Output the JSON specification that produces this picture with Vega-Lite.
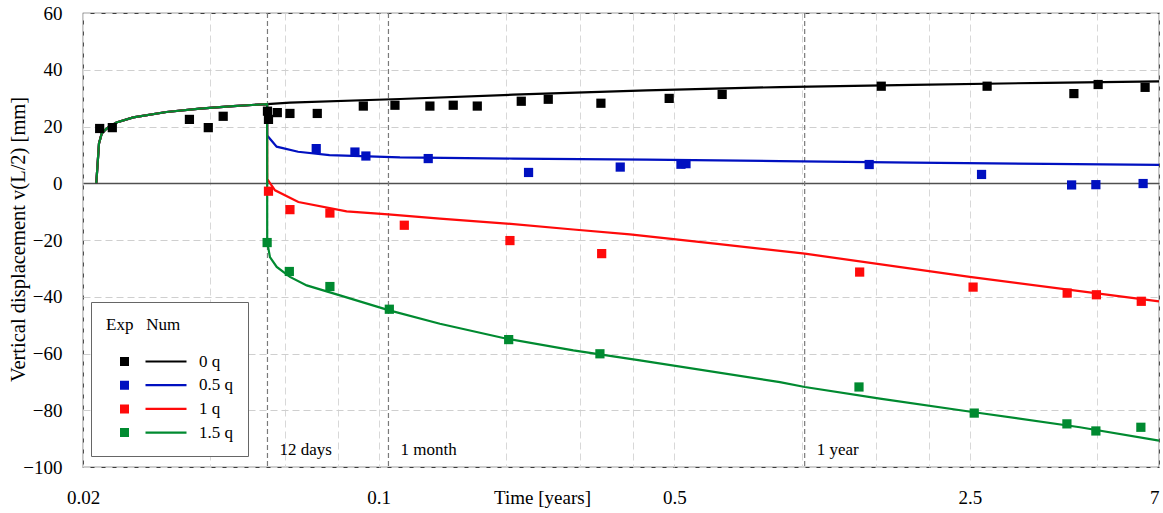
{
  "$schema": "https://vega.github.io/schema/vega-lite/v6.json",
  "width": 1076,
  "height": 454,
  "autosize": "none",
  "padding": {"left": 83, "top": 13, "right": 4, "bottom": 46},
  "background": "white",
  "config": {
    "view": {"stroke": "#3c3c3c", "strokeWidth": 1.2},
    "font": "Liberation Serif",
    "axis": {"labelFont": "Liberation Serif", "titleFont": "Liberation Serif", "labelColor": "#000", "titleColor": "#000", "titleFontWeight": "normal", "ticks": false, "tickSize": 0, "domain": false}
  },
  "datasets": {
    "events": [
      {"t": 0.0546, "label": "12 days"},
      {"t": 0.1055, "label": "1 month"},
      {"t": 1.017, "label": "1 year"}
    ],
    "exp": [
      {"t": 0.0219, "v": 19.3, "series": "0 q"},
      {"t": 0.02346, "v": 19.6, "series": "0 q"},
      {"t": 0.0357, "v": 22.5, "series": "0 q"},
      {"t": 0.03956, "v": 19.6, "series": "0 q"},
      {"t": 0.0429, "v": 23.6, "series": "0 q"},
      {"t": 0.0546, "v": 25.4, "series": "0 q"},
      {"t": 0.0549, "v": 22.5, "series": "0 q"},
      {"t": 0.0576, "v": 24.9, "series": "0 q"},
      {"t": 0.0617, "v": 24.6, "series": "0 q"},
      {"t": 0.0716, "v": 24.6, "series": "0 q"},
      {"t": 0.092, "v": 27.2, "series": "0 q"},
      {"t": 0.1093, "v": 27.5, "series": "0 q"},
      {"t": 0.1322, "v": 27.2, "series": "0 q"},
      {"t": 0.1501, "v": 27.5, "series": "0 q"},
      {"t": 0.1711, "v": 27.2, "series": "0 q"},
      {"t": 0.2174, "v": 28.9, "series": "0 q"},
      {"t": 0.2518, "v": 29.6, "series": "0 q"},
      {"t": 0.3354, "v": 28.2, "series": "0 q"},
      {"t": 0.4864, "v": 29.9, "series": "0 q"},
      {"t": 0.649, "v": 31.3, "series": "0 q"},
      {"t": 1.543, "v": 34.2, "series": "0 q"},
      {"t": 2.746, "v": 34.2, "series": "0 q"},
      {"t": 4.404, "v": 31.6, "series": "0 q"},
      {"t": 5.026, "v": 34.8, "series": "0 q"},
      {"t": 6.49, "v": 33.8, "series": "0 q"},
      {"t": 0.0712, "v": 12.2, "series": "0.5 q"},
      {"t": 0.0879, "v": 11.0, "series": "0.5 q"},
      {"t": 0.0933, "v": 9.6, "series": "0.5 q"},
      {"t": 0.131, "v": 8.7, "series": "0.5 q"},
      {"t": 0.2262, "v": 3.8, "series": "0.5 q"},
      {"t": 0.3726, "v": 5.7, "series": "0.5 q"},
      {"t": 0.5186, "v": 6.7, "series": "0.5 q"},
      {"t": 0.533, "v": 6.9, "series": "0.5 q"},
      {"t": 1.445, "v": 6.6, "series": "0.5 q"},
      {"t": 2.664, "v": 3.1, "series": "0.5 q"},
      {"t": 4.35, "v": -0.6, "series": "0.5 q"},
      {"t": 4.964, "v": -0.5, "series": "0.5 q"},
      {"t": 6.42, "v": -0.1, "series": "0.5 q"},
      {"t": 0.0549, "v": -2.8, "series": "1 q"},
      {"t": 0.0617, "v": -9.3, "series": "1 q"},
      {"t": 0.0767, "v": -10.5, "series": "1 q"},
      {"t": 0.115, "v": -14.8, "series": "1 q"},
      {"t": 0.2044, "v": -20.2, "series": "1 q"},
      {"t": 0.3368, "v": -24.8, "series": "1 q"},
      {"t": 1.372, "v": -31.3, "series": "1 q"},
      {"t": 2.544, "v": -36.6, "series": "1 q"},
      {"t": 4.246, "v": -38.7, "series": "1 q"},
      {"t": 4.978, "v": -39.3, "series": "1 q"},
      {"t": 6.356, "v": -41.6, "series": "1 q"},
      {"t": 0.0545, "v": -20.9, "series": "1.5 q"},
      {"t": 0.0615, "v": -31.1, "series": "1.5 q"},
      {"t": 0.0767, "v": -36.4, "series": "1.5 q"},
      {"t": 0.106, "v": -44.4, "series": "1.5 q"},
      {"t": 0.203, "v": -55.1, "series": "1.5 q"},
      {"t": 0.3336, "v": -60.1, "series": "1.5 q"},
      {"t": 1.367, "v": -71.8, "series": "1.5 q"},
      {"t": 2.56, "v": -81.0, "series": "1.5 q"},
      {"t": 4.24, "v": -84.8, "series": "1.5 q"},
      {"t": 4.964, "v": -87.3, "series": "1.5 q"},
      {"t": 6.342, "v": -86.0, "series": "1.5 q"}
    ],
    "num": [
      {"t": 0.0215, "v": 0, "series": "0 q"},
      {"t": 0.02182, "v": 14.0, "series": "0 q"},
      {"t": 0.02214, "v": 17.5, "series": "0 q"},
      {"t": 0.02276, "v": 19.3, "series": "0 q"},
      {"t": 0.024, "v": 21.4, "series": "0 q"},
      {"t": 0.0263, "v": 23.2, "series": "0 q"},
      {"t": 0.0315, "v": 25.1, "series": "0 q"},
      {"t": 0.0378, "v": 26.3, "series": "0 q"},
      {"t": 0.0453, "v": 27.2, "series": "0 q"},
      {"t": 0.0545, "v": 27.9, "series": "0 q"},
      {"t": 0.0617, "v": 28.4, "series": "0 q"},
      {"t": 0.1123, "v": 29.7, "series": "0 q"},
      {"t": 0.208, "v": 31.2, "series": "0 q"},
      {"t": 0.43, "v": 32.7, "series": "0 q"},
      {"t": 0.889, "v": 33.9, "series": "0 q"},
      {"t": 1.836, "v": 34.7, "series": "0 q"},
      {"t": 3.796, "v": 35.4, "series": "0 q"},
      {"t": 7, "v": 35.9, "series": "0 q"},
      {"t": 0.0215, "v": 0, "series": "0.5 q"},
      {"t": 0.02182, "v": 14.0, "series": "0.5 q"},
      {"t": 0.02214, "v": 17.5, "series": "0.5 q"},
      {"t": 0.02276, "v": 19.3, "series": "0.5 q"},
      {"t": 0.024, "v": 21.4, "series": "0.5 q"},
      {"t": 0.0263, "v": 23.2, "series": "0.5 q"},
      {"t": 0.0315, "v": 25.1, "series": "0.5 q"},
      {"t": 0.0378, "v": 26.3, "series": "0.5 q"},
      {"t": 0.0453, "v": 27.2, "series": "0.5 q"},
      {"t": 0.0545, "v": 27.9, "series": "0.5 q"},
      {"t": 0.05452, "v": 16.8, "series": "0.5 q"},
      {"t": 0.0574, "v": 12.9, "series": "0.5 q"},
      {"t": 0.0645, "v": 11.1, "series": "0.5 q"},
      {"t": 0.0765, "v": 9.9, "series": "0.5 q"},
      {"t": 0.1123, "v": 9.1, "series": "0.5 q"},
      {"t": 0.208, "v": 8.7, "series": "0.5 q"},
      {"t": 0.43, "v": 8.3, "series": "0.5 q"},
      {"t": 0.889, "v": 7.8, "series": "0.5 q"},
      {"t": 1.836, "v": 7.3, "series": "0.5 q"},
      {"t": 3.796, "v": 6.8, "series": "0.5 q"},
      {"t": 7, "v": 6.45, "series": "0.5 q"},
      {"t": 0.0215, "v": 0, "series": "1 q"},
      {"t": 0.02182, "v": 14.0, "series": "1 q"},
      {"t": 0.02214, "v": 17.5, "series": "1 q"},
      {"t": 0.02276, "v": 19.3, "series": "1 q"},
      {"t": 0.024, "v": 21.4, "series": "1 q"},
      {"t": 0.0263, "v": 23.2, "series": "1 q"},
      {"t": 0.0315, "v": 25.1, "series": "1 q"},
      {"t": 0.0378, "v": 26.3, "series": "1 q"},
      {"t": 0.0453, "v": 27.2, "series": "1 q"},
      {"t": 0.0545, "v": 27.9, "series": "1 q"},
      {"t": 0.05452, "v": 1.5, "series": "1 q"},
      {"t": 0.0551, "v": 0.5, "series": "1 q"},
      {"t": 0.0569, "v": -2.5, "series": "1 q"},
      {"t": 0.0646, "v": -6.6, "series": "1 q"},
      {"t": 0.084, "v": -9.9, "series": "1 q"},
      {"t": 0.1054, "v": -11.0, "series": "1 q"},
      {"t": 0.1396, "v": -12.5, "series": "1 q"},
      {"t": 0.2008, "v": -14.2, "series": "1 q"},
      {"t": 0.2886, "v": -16.3, "series": "1 q"},
      {"t": 0.3928, "v": -18.0, "series": "1 q"},
      {"t": 0.624, "v": -21.3, "series": "1 q"},
      {"t": 1.018, "v": -24.8, "series": "1 q"},
      {"t": 2.498, "v": -33.0, "series": "1 q"},
      {"t": 7, "v": -41.6, "series": "1 q"},
      {"t": 0.0215, "v": 0, "series": "1.5 q"},
      {"t": 0.02182, "v": 14.0, "series": "1.5 q"},
      {"t": 0.02214, "v": 17.5, "series": "1.5 q"},
      {"t": 0.02276, "v": 19.3, "series": "1.5 q"},
      {"t": 0.024, "v": 21.4, "series": "1.5 q"},
      {"t": 0.0263, "v": 23.2, "series": "1.5 q"},
      {"t": 0.0315, "v": 25.1, "series": "1.5 q"},
      {"t": 0.0378, "v": 26.3, "series": "1.5 q"},
      {"t": 0.0453, "v": 27.2, "series": "1.5 q"},
      {"t": 0.0545, "v": 27.9, "series": "1.5 q"},
      {"t": 0.05452, "v": -20.7, "series": "1.5 q"},
      {"t": 0.05534, "v": -26.0, "series": "1.5 q"},
      {"t": 0.05742, "v": -29.5, "series": "1.5 q"},
      {"t": 0.0617, "v": -33.0, "series": "1.5 q"},
      {"t": 0.0676, "v": -36.0, "series": "1.5 q"},
      {"t": 0.081, "v": -39.5, "series": "1.5 q"},
      {"t": 0.106, "v": -44.8, "series": "1.5 q"},
      {"t": 0.1396, "v": -49.5, "series": "1.5 q"},
      {"t": 0.2008, "v": -54.8, "series": "1.5 q"},
      {"t": 0.2886, "v": -58.9, "series": "1.5 q"},
      {"t": 0.4149, "v": -62.4, "series": "1.5 q"},
      {"t": 0.8888, "v": -70.1, "series": "1.5 q"},
      {"t": 1.018, "v": -71.8, "series": "1.5 q"},
      {"t": 1.532, "v": -75.9, "series": "1.5 q"},
      {"t": 2.56, "v": -80.7, "series": "1.5 q"},
      {"t": 4.55, "v": -86.0, "series": "1.5 q"},
      {"t": 7, "v": -90.7, "series": "1.5 q"}
    ]
  },
  "layer": [
    {
      "data": {"name": "events"},
      "mark": {"type": "rule", "color": "#7a7a7a", "strokeDash": [5, 3], "strokeWidth": 1.2},
      "encoding": {
        "x": {
          "field": "t", "type": "quantitative",
          "scale": {"type": "log", "domain": [0.02, 7], "nice": false},
          "axis": {
            "values": [0.02, 0.04, 0.06, 0.08, 0.1, 0.2, 0.3, 0.4, 0.5, 1, 1.5, 2, 2.5, 5, 7],
            "format": "~g",
            "labelExpr": "indexof([0.02,0.1,0.5,2.5,7], datum.value) >= 0 ? datum.label : ''",
            "labelFontSize": 19, "labelPadding": 30, "labelBaseline": "middle",
            "labelFlush": false, "labelOverlap": false, "labelBound": false,
            "labelAlign": {"condition": {"test": "datum.value >= 7", "value": "right"}, "value": "center"},
            "title": "Time [years]", "titleFontSize": 19, "titleX": 459, "titleY": 30,
            "titleBaseline": "middle", "titleAlign": "center",
            "grid": true, "gridColor": "#d8d8d8", "gridDash": [7, 4], "gridWidth": 1
          }
        }
      }
    },
    {
      "data": {"name": "events"},
      "mark": {"type": "text", "font": "Liberation Serif", "fontSize": 17, "align": "left", "baseline": "middle", "dx": 12, "color": "#000"},
      "encoding": {
        "x": {"field": "t", "type": "quantitative"},
        "y": {"datum": -94, "type": "quantitative"},
        "text": {"field": "label"}
      }
    },
    {
      "data": {"name": "num"},
      "mark": {"type": "line", "strokeWidth": 2.2, "interpolate": "linear"},
      "encoding": {
        "x": {"field": "t", "type": "quantitative"},
        "y": {
          "field": "v", "type": "quantitative",
          "scale": {"domain": [-100, 60], "nice": false, "zero": false},
          "axis": {
            "values": [-100, -80, -60, -40, -20, 0, 20, 40, 60],
            "format": "d",
            "title": "Vertical displacement v(L/2) [mm]",
            "labelFontSize": 19, "titleFontSize": 20.5, "labelPadding": 21,
            "grid": true,
            "gridColor": {"condition": {"test": "datum.value === 0", "value": "#505050"}, "value": "#cfcfcf"},
            "gridDash": {"condition": {"test": "datum.value === 0", "value": []}, "value": [7, 4]},
            "gridWidth": {"condition": {"test": "datum.value === 0", "value": 1.4}, "value": 1},
            "titleX": -65, "titleY": 226, "titleAngle": -90, "titleBaseline": "middle", "titleAlign": "center"
          }
        },
        "color": {"field": "series", "type": "nominal"}
      }
    },
    {
      "data": {"name": "exp"},
      "mark": {"type": "point", "shape": "square", "filled": true, "size": 85, "opacity": 1},
      "encoding": {
        "x": {"field": "t", "type": "quantitative"},
        "y": {"field": "v", "type": "quantitative"},
        "color": {
          "field": "series", "type": "nominal",
          "scale": {"domain": ["0 q", "0.5 q", "1 q", "1.5 q"], "range": ["#000000", "#0010c0", "#ff0a0a", "#008a30"]},
          "legend": {
            "orient": "none", "legendX": 8, "legendY": 289,
            "title": "Exp\u00a0\u00a0\u00a0Num", "titleFontSize": 17, "titleFontWeight": "normal", "titleFont": "Liberation Serif", "titleColor": "#000", "titlePadding": 19,
            "labelFontSize": 17, "labelFont": "Liberation Serif", "labelColor": "#000", "labelOffset": 76,
            "symbolType": "M1.1,-0.9H2.9V0.9H1.1Z M6.2,-0.22H14.4V0.22H6.2Z",
            "symbolSize": 100, "symbolStrokeWidth": 0, "symbolOpacity": 1,
            "rowPadding": 5.7, "padding": 15, "strokeColor": "#666", "fillColor": "white", "cornerRadius": 0,
            "encode": {"symbols": {"update": {"fill": {"scale": "color", "field": "value"}, "stroke": {"value": "transparent"}}}}
          }
        }
      }
    }
  ]
}
